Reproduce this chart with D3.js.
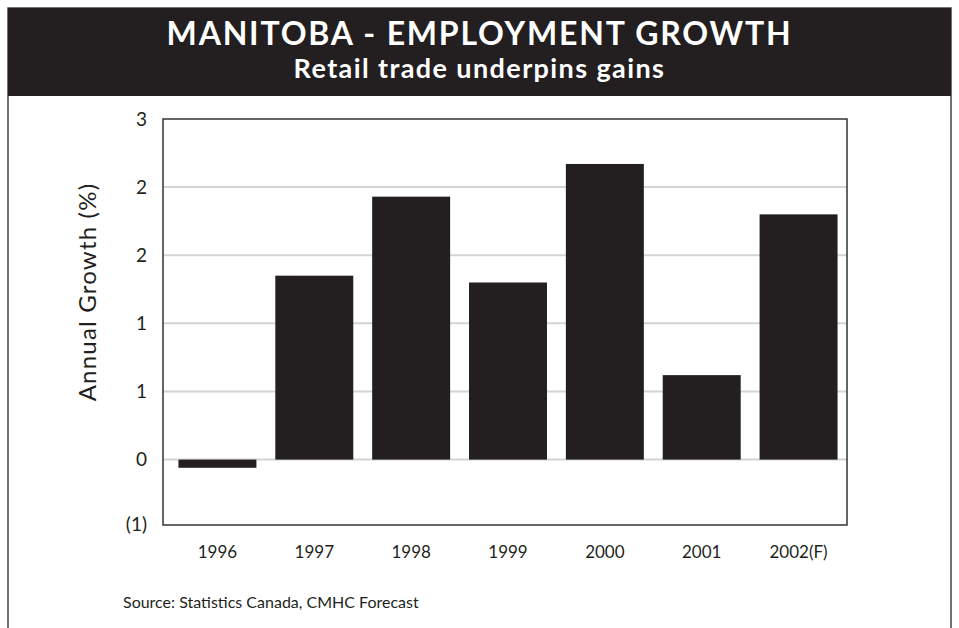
<!DOCTYPE html>
<html lang="en">
<head>
<meta charset="UTF-8">
<title>Manitoba - Employment Growth</title>
<script src="https://d3js.org/d3.v7.min.js"></script>
<style>
  body { margin: 0; background: #fff; }
  text { font-family: Lato, "Open Sans", sans-serif; fill: #231f20; }
</style>
</head>
<body>
<div id="chart"></div>
<script>
// chart data
const years = ["1996", "1997", "1998", "1999", "2000", "2001", "2002(F)"];
const growth = [-0.06, 1.35, 1.93, 1.30, 2.17, 0.62, 1.80];
const yTicks = [-0.5, 0, 0.5, 1, 1.5, 2, 2.5];

const W = 959, H = 628;
const plot = {left: 163, right: 847, top: 119, bottom: 525};

const svg = d3.select("#chart").append("svg")
  .attr("width", W)
  .attr("height", H);

// outer frame + black header
svg.append("rect")
  .attr("x", 8).attr("y", 8).attr("width", W - 16).attr("height", H + 10)
  .attr("fill", "#fff").attr("stroke", "#444").attr("stroke-width", 1.5);
svg.append("rect")
  .attr("x", 8).attr("y", 8).attr("width", W - 16).attr("height", 88)
  .attr("fill", "#231f20");

svg.append("text")
  .attr("x", W / 2).attr("y", 45)
  .attr("text-anchor", "middle")
  .style("font-size", "32px").style("font-weight", "bold").style("fill", "#fff")
  .style("letter-spacing", "1.8px")
  .text("MANITOBA - EMPLOYMENT GROWTH");
svg.append("text")
  .attr("x", W / 2).attr("y", 78)
  .attr("text-anchor", "middle")
  .style("font-size", "27px").style("font-weight", "bold").style("fill", "#fff")
  .style("letter-spacing", "1.4px")
  .text("Retail trade underpins gains");

// scales
const x = d3.scaleBand()
  .domain(years)
  .range([plot.left + 6, plot.right])
  .paddingInner(0.195)
  .paddingOuter(0.0975);

const y = d3.scaleLinear()
  .domain([-0.48, 2.5])
  .range([plot.bottom, plot.top]);

// gridlines
svg.append("g")
  .selectAll("line")
  .data(yTicks.slice(1, -1))
  .join("line")
    .attr("x1", plot.left).attr("x2", plot.right)
    .attr("y1", d => y(d)).attr("y2", d => y(d))
    .attr("stroke", "#d4d4d4").attr("stroke-width", 2);

// bars
svg.append("g")
  .selectAll("rect")
  .data(growth)
  .join("rect")
    .attr("x", (d, i) => x(years[i]))
    .attr("y", d => y(Math.max(0, d)))
    .attr("width", x.bandwidth())
    .attr("height", d => Math.abs(y(d) - y(0)))
    .attr("fill", "#231f20");

// plot frame
svg.append("rect")
  .attr("x", plot.left).attr("y", plot.top)
  .attr("width", plot.right - plot.left).attr("height", plot.bottom - plot.top)
  .attr("fill", "none").attr("stroke", "#333").attr("stroke-width", 1.5);

// y axis labels (rounded like the original: half away from zero, negatives in brackets)
const fmt = d => {
  const r = Math.sign(d) * Math.round(Math.abs(d));
  return r < 0 ? "(" + Math.abs(r) + ")" : String(r);
};
const yAxis = svg.append("g")
  .attr("transform", `translate(${plot.left},0)`)
  .call(d3.axisLeft(y).tickValues(yTicks.slice(1)).tickFormat(fmt).tickSize(0).tickPadding(16));
yAxis.select(".domain").remove();
// bottom label sits on the frame edge
yAxis.append("text")
  .attr("x", -16).attr("y", plot.bottom).attr("dy", "0.32em")
  .attr("text-anchor", "end").attr("fill", "#231f20")
  .text(fmt(yTicks[0]));
yAxis.selectAll("text").style("font-size", "19px").style("font-family", "Lato, sans-serif");

// x axis labels
const xAxis = svg.append("g")
  .attr("transform", `translate(0,${plot.bottom})`)
  .call(d3.axisBottom(x).tickSize(0).tickPadding(21));
xAxis.select(".domain").remove();
xAxis.selectAll("text").style("font-size", "17px").style("font-family", "Lato, sans-serif");

// y axis title
svg.append("text")
  .attr("transform", "translate(96,292) rotate(-90)")
  .attr("text-anchor", "middle")
  .style("font-size", "24px")
  .style("letter-spacing", "1.2px")
  .text("Annual Growth (%)");

// source note
svg.append("text")
  .attr("x", 123).attr("y", 608)
  .style("font-size", "16px")
  .text("Source: Statistics Canada, CMHC Forecast");
</script>
</body>
</html>
